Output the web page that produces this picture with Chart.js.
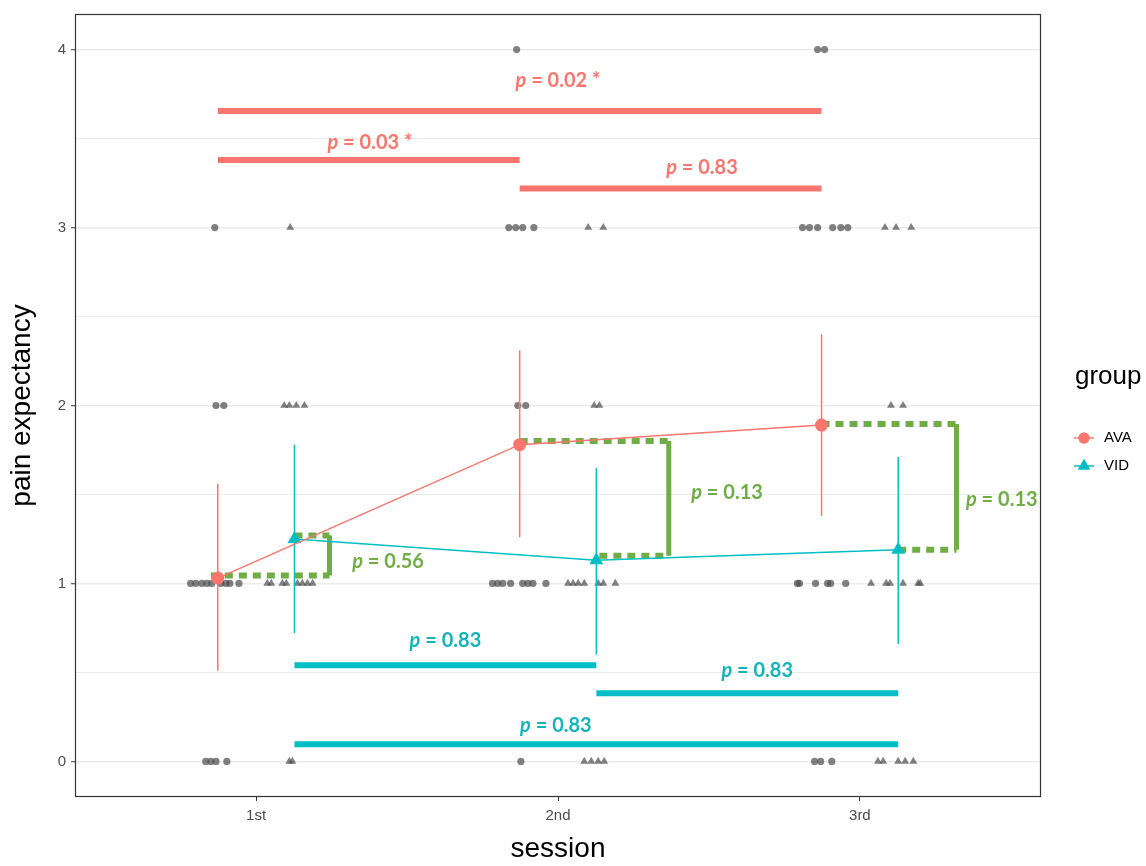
<!DOCTYPE html>
<html>
<head>
<meta charset="utf-8">
<script src="https://cdn.jsdelivr.net/npm/chart.js@4.4.1/dist/chart.umd.min.js"></script>
<style>
  html, body { margin: 0; padding: 0; background: #fff; }
  canvas { display: block; }
</style>
</head>
<body>
<canvas id="chart" width="1146" height="866"></canvas>
<script>
// categories / ticks
const sessions = ["1st", "2nd", "3rd"];
const yTickValues = [0, 0.5, 1, 1.5, 2, 2.5, 3, 3.5, 4];
const groups = ["AVA", "VID"];

// group means and error bar ends (x = session index +/- dodge)
const avaX = [-0.127, 0.873, 1.873];
const avaMean = [1.03, 1.78, 1.89];
const avaLow = [0.51, 1.26, 1.38];
const avaHigh = [1.56, 2.31, 2.40];

const vidX = [0.127, 1.127, 2.127];
const vidMean = [1.25, 1.13, 1.19];
const vidLow = [0.72, 0.60, 0.66];
const vidHigh = [1.78, 1.65, 1.71];

// individual (jittered) answers
const avaJitterX = [
  -0.167, -0.150, -0.133, -0.097,
  -0.217, -0.200, -0.180, -0.163, -0.147, -0.117, -0.100, -0.087, -0.057,
  -0.133, -0.107,
  -0.137,
  0.877,
  0.783, 0.800, 0.817, 0.843, 0.883, 0.900, 0.917, 0.960,
  0.867, 0.893,
  0.837, 0.860, 0.883, 0.920,
  0.863,
  1.850, 1.870, 1.907,
  1.793, 1.800, 1.853, 1.893, 1.903, 1.953,
  1.810, 1.833, 1.860, 1.910, 1.937, 1.960,
  1.860, 1.883
];
const avaJitterY = [
  0, 0, 0, 0,
  1, 1, 1, 1, 1, 1, 1, 1, 1,
  2, 2,
  3,
  0,
  1, 1, 1, 1, 1, 1, 1, 1,
  2, 2,
  3, 3, 3, 3,
  4,
  0, 0, 0,
  1, 1, 1, 1, 1, 1,
  3, 3, 3, 3, 3, 3,
  4, 4
];
const vidJitterX = [
  0.110, 0.120,
  0.037, 0.050, 0.087, 0.100, 0.137, 0.153, 0.170, 0.187,
  0.093, 0.110, 0.133, 0.160,
  0.113,
  1.087, 1.110, 1.133, 1.153,
  1.033, 1.050, 1.067, 1.087, 1.133, 1.150, 1.190,
  1.120, 1.137,
  1.100, 1.150,
  2.060, 2.077, 2.127, 2.150, 2.177,
  2.037, 2.087, 2.100, 2.143, 2.193, 2.200,
  2.103, 2.143,
  2.083, 2.120, 2.170
];
const vidJitterY = [
  0, 0,
  1, 1, 1, 1, 1, 1, 1, 1,
  2, 2, 2, 2,
  3,
  0, 0, 0, 0,
  1, 1, 1, 1, 1, 1, 1,
  2, 2,
  3, 3,
  0, 0, 0, 0, 0,
  1, 1, 1, 1, 1, 1,
  2, 2,
  3, 3, 3
];

// within-group comparisons between sessions
const avaSigX0 = [-0.127, -0.127, 0.873];
const avaSigX1 = [1.873, 0.873, 1.873];
const avaSigY = [3.655, 3.38, 3.22];
const avaSigP = ["0.02 *", "0.03 *", "0.83"];
const avaSigLabelX = [1.0, 0.377, 1.477];
const avaSigLabelY = [3.826, 3.477, 3.336];

const vidSigX0 = [0.127, 1.127, 0.127];
const vidSigX1 = [1.127, 2.127, 2.127];
const vidSigY = [0.54, 0.383, 0.096];
const vidSigP = ["0.83", "0.83", "0.83"];
const vidSigLabelX = [0.627, 1.66, 0.993];
const vidSigLabelY = [0.681, 0.512, 0.203];

// between-group comparisons in each session
const pairBracketX = [0.243, 1.367, 2.32];
const pairAvaStartX = [-0.15, 0.873, 1.873];
const pairVidStartX = [0.127, 1.137, 2.127];
const pairAvaY = [1.045, 1.80, 1.896];
const pairVidY = [1.27, 1.155, 1.19];
const pairP = ["0.56", "0.13", "0.13"];
const pairLabelX = [0.437, 1.56, 2.47];
const pairLabelY = [1.125, 1.513, 1.474];

const RED = "#F8766D";
const CYAN = "#00BFC4";
const GREEN = "#70AD47";
const POINT_GREY = "rgba(75, 75, 75, 0.7)";
const AXIS_FONT = "'Liberation Sans', Arial, sans-serif";
const P_FONT = "Lato, 'Open Sans', sans-serif";

const toPoints = (xs, ys) => xs.map((x, i) => ({ x, y: ys[i] }));

function segment(x0, y0, x1, y1, color, width, dash, order) {
    return {
        data: [{ x: x0, y: y0 }, { x: x1, y: y1 }],
        showLine: true,
        borderColor: color,
        borderWidth: width,
        borderDash: dash || [],
        borderCapStyle: "butt",
        pointRadius: 0,
        order,
    };
}

const datasets = [];

// means on top
datasets.push({
    label: "AVA",
    data: toPoints(avaX, avaMean),
    showLine: true,
    borderColor: RED,
    borderWidth: 1.5,
    pointStyle: "circle",
    pointRadius: 6.5,
    pointBackgroundColor: RED,
    pointBorderWidth: 0,
    order: 0,
});
datasets.push({
    label: "VID",
    data: toPoints(vidX, vidMean),
    showLine: true,
    borderColor: CYAN,
    borderWidth: 1.5,
    pointStyle: "triangle",
    pointRadius: 8,
    pointBackgroundColor: CYAN,
    pointBorderWidth: 0,
    order: 0,
});

// error bars
avaX.forEach((x, i) => datasets.push(segment(x, avaLow[i], x, avaHigh[i], RED, 1.5, null, 1)));
vidX.forEach((x, i) => datasets.push(segment(x, vidLow[i], x, vidHigh[i], CYAN, 1.5, null, 1)));

// significance bars
avaSigY.forEach((y, i) => datasets.push(segment(avaSigX0[i], y, avaSigX1[i], y, RED, 6, null, 2)));
vidSigY.forEach((y, i) => datasets.push(segment(vidSigX0[i], y, vidSigX1[i], y, CYAN, 6, null, 2)));
pairBracketX.forEach((bx, i) => {
    datasets.push(segment(pairAvaStartX[i], pairAvaY[i], bx, pairAvaY[i], GREEN, 6, [8, 6], 2));
    datasets.push(segment(pairVidStartX[i], pairVidY[i], bx, pairVidY[i], GREEN, 6, [8, 6], 2));
    datasets.push(segment(bx, pairAvaY[i], bx, pairVidY[i], GREEN, 5, null, 2));
});

// jittered raw answers underneath
datasets.push({
    data: toPoints(avaJitterX, avaJitterY),
    pointStyle: "circle",
    pointRadius: 3.6,
    pointBackgroundColor: POINT_GREY,
    pointBorderWidth: 0,
    order: 3,
});
datasets.push({
    data: toPoints(vidJitterX, vidJitterY),
    pointStyle: "triangle",
    pointRadius: 4.6,
    pointBackgroundColor: POINT_GREY,
    pointBorderWidth: 0,
    order: 3,
});

function drawP(ctx, cx, cy, rest, color) {
    const italic = `italic bold 20px ${P_FONT}`;
    const bold = `bold 20px ${P_FONT}`;
    const tail = " = " + rest;
    ctx.font = italic;
    const wp = ctx.measureText("p").width;
    ctx.font = bold;
    const wt = ctx.measureText(tail).width;
    const x0 = cx - (wp + wt) / 2;
    ctx.fillStyle = color;
    ctx.textAlign = "left";
    ctx.textBaseline = "middle";
    ctx.font = italic;
    ctx.fillText("p", x0, cy);
    ctx.font = bold;
    ctx.fillText(tail, x0 + wp, cy);
}

const overlayPlugin = {
    id: "overlay",
    afterDatasetsDraw(chart) {
        const { ctx, chartArea: a, scales: { x, y } } = chart;
        ctx.save();
        avaSigP.forEach((p, i) => drawP(ctx, x.getPixelForValue(avaSigLabelX[i]), y.getPixelForValue(avaSigLabelY[i]), p, RED));
        vidSigP.forEach((p, i) => drawP(ctx, x.getPixelForValue(vidSigLabelX[i]), y.getPixelForValue(vidSigLabelY[i]), p, "#14B4BA"));
        pairP.forEach((p, i) => drawP(ctx, x.getPixelForValue(pairLabelX[i]), y.getPixelForValue(pairLabelY[i]), p, GREEN));

        // panel border
        ctx.strokeStyle = "#333333";
        ctx.lineWidth = 1.2;
        ctx.strokeRect(a.left + 0.5, a.top + 0.5, a.width - 1, a.height - 1);
        ctx.restore();
    },
    afterDraw(chart) {
        const { ctx, chartArea: a } = chart;
        const lx = a.right + 34;
        ctx.save();
        ctx.fillStyle = "#000";
        ctx.textAlign = "left";
        ctx.textBaseline = "middle";
        ctx.font = `26px ${AXIS_FONT}`;
        ctx.fillText("group", lx, 377);

        const keys = [
            { name: groups[0], color: RED, style: "circle", r: 5.5, y: 438 },
            { name: groups[1], color: CYAN, style: "triangle", r: 7, y: 466 },
        ];
        keys.forEach(k => {
            const kx = lx + 9;
            ctx.strokeStyle = k.color;
            ctx.lineWidth = 1.5;
            ctx.beginPath();
            ctx.moveTo(kx - 10, k.y);
            ctx.lineTo(kx + 10, k.y);
            ctx.stroke();
            ctx.fillStyle = k.color;
            Chart.helpers.drawPoint(ctx, { pointStyle: k.style, radius: k.r, borderWidth: 0 }, kx, k.y);
            ctx.fill();
            ctx.fillStyle = "#000";
            ctx.font = `15px ${AXIS_FONT}`;
            ctx.fillText(k.name, lx + 29, k.y);
        });
        ctx.restore();
    },
};

new Chart(document.getElementById("chart"), {
    type: "scatter",
    data: { datasets },
    plugins: [overlayPlugin],
    options: {
        responsive: false,
        animation: false,
        devicePixelRatio: 1,
        events: [],
        layout: { padding: { left: 0, right: 105, top: 14, bottom: 0 } },
        plugins: { legend: { display: false }, tooltip: { enabled: false } },
        scales: {
            x: {
                type: "linear",
                min: -0.6,
                max: 2.6,
                afterBuildTicks: s => { s.ticks = sessions.map((_, i) => ({ value: i })); },
                afterFit: s => { s.height = 69; },
                ticks: {
                    callback: v => sessions[v] ?? "",
                    color: "#4D4D4D",
                    font: { size: 15, family: AXIS_FONT },
                    padding: 6,
                    autoSkip: false,
                    maxRotation: 0,
                },
                grid: { drawOnChartArea: false, tickLength: 4, tickColor: "#333333", tickWidth: 1 },
                border: { display: false },
                title: {
                    display: true,
                    text: "session",
                    color: "#000",
                    font: { size: 28, family: AXIS_FONT },
                    padding: { top: 0, bottom: 0 },
                },
            },
            y: {
                type: "linear",
                min: -0.2,
                max: 4.2,
                afterBuildTicks: s => { s.ticks = yTickValues.map(v => ({ value: v })); },
                afterFit: s => { s.width = 75; },
                ticks: {
                    callback: v => (Number.isInteger(v) ? String(v) : ""),
                    color: "#4D4D4D",
                    font: { size: 15, family: AXIS_FONT },
                    padding: 5,
                    autoSkip: false,
                },
                grid: {
                    color: "#EBEBEB",
                    lineWidth: c => (Number.isInteger(c.tick.value) ? 1.5 : 1),
                    tickLength: 4,
                    tickColor: c => (Number.isInteger(c.tick.value) ? "#333333" : "rgba(0,0,0,0)"),
                    tickWidth: 1,
                },
                border: { display: false },
                title: {
                    display: true,
                    text: "pain expectancy",
                    color: "#000",
                    font: { size: 28, family: AXIS_FONT },
                    padding: { top: 5, bottom: 0 },
                },
            },
        },
    },
});
</script>
</body>
</html>
